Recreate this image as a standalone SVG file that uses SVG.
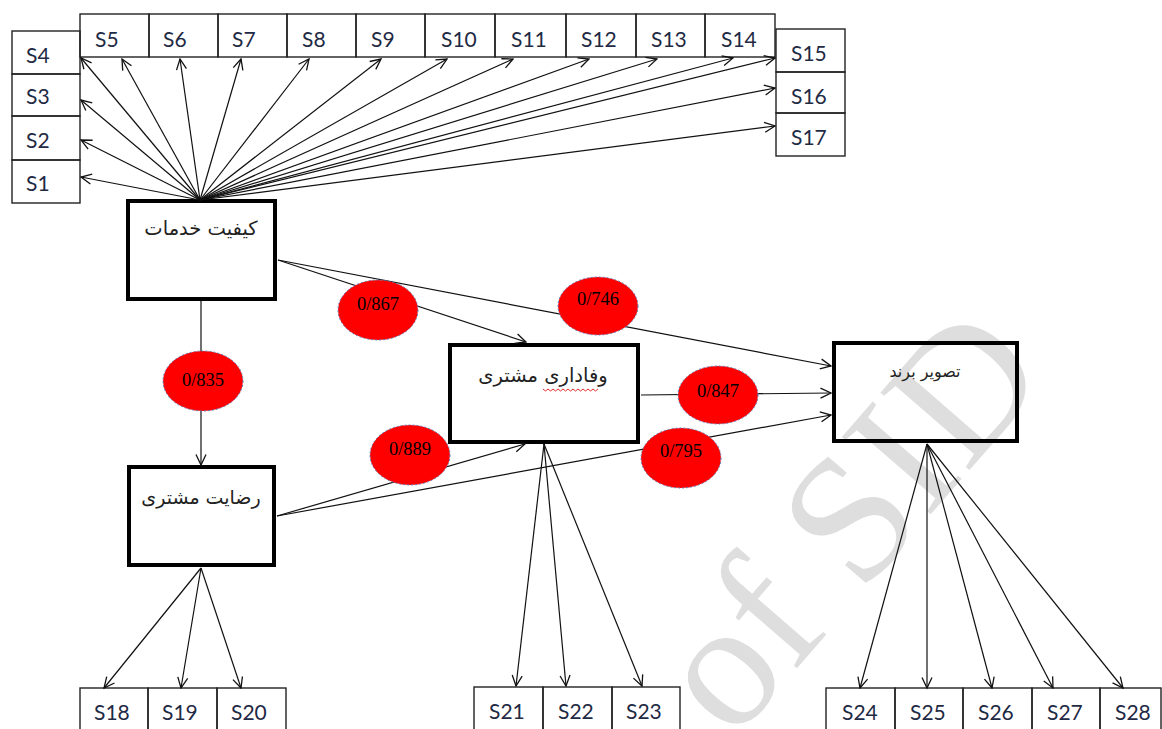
<svg xmlns="http://www.w3.org/2000/svg" width="1162" height="729" viewBox="0 0 1162 729">
<style>
.sb{fill:none;stroke:#222;stroke-width:1.4}
.st{font-family:Lato,"Open Sans",sans-serif;font-size:21px;fill:#1f2a44}
.big{fill:none;stroke:#000;stroke-width:4}
.fa{font-family:"DejaVu Sans",sans-serif;fill:#222;text-anchor:middle}
.c line{stroke:#111;stroke-width:1.2;fill:none}
.el{fill:#ff0000;stroke:#5a7fb8;stroke-width:1;stroke-dasharray:2 2}
.et{font-family:"Liberation Serif",serif;font-size:18.5px;fill:#000;text-anchor:middle}
.wm{font-family:"Liberation Serif",serif;font-size:180px;fill:#dedede}
</style>
<defs>
<marker id="a" markerWidth="13" markerHeight="13" refX="11.5" refY="6" orient="auto" markerUnits="userSpaceOnUse">
<path d="M1,1 L11.5,6 L1,11" fill="none" stroke="#111" stroke-width="1.3"/>
</marker>
</defs>
<rect width="1162" height="729" fill="#fff"/>
<text class="wm" transform="translate(733,742) rotate(-49)">of SID</text>

<g id="top-row">
<g id="S5"><rect class="sb" x="80" y="14" width="69" height="43"/><text class="st" x="95" y="47">S5</text></g>
<g id="S6"><rect class="sb" x="149" y="14" width="69" height="43"/><text class="st" x="163" y="47">S6</text></g>
<g id="S7"><rect class="sb" x="218" y="14" width="69" height="43"/><text class="st" x="232" y="47">S7</text></g>
<g id="S8"><rect class="sb" x="287" y="14" width="69" height="43"/><text class="st" x="302" y="47">S8</text></g>
<g id="S9"><rect class="sb" x="356" y="14" width="69" height="43"/><text class="st" x="371" y="47">S9</text></g>
<g id="S10"><rect class="sb" x="425" y="14" width="70" height="43"/><text class="st" x="441" y="47">S10</text></g>
<g id="S11"><rect class="sb" x="495" y="14" width="71" height="43"/><text class="st" x="511" y="47">S11</text></g>
<g id="S12"><rect class="sb" x="566" y="14" width="70" height="43"/><text class="st" x="581" y="47">S12</text></g>
<g id="S13"><rect class="sb" x="636" y="14" width="69" height="43"/><text class="st" x="651" y="47">S13</text></g>
<g id="S14"><rect class="sb" x="705" y="14" width="70" height="43"/><text class="st" x="721" y="47">S14</text></g>
</g>
<g id="left-col">
<g id="S4"><rect class="sb" x="12" y="31" width="68" height="43"/><text class="st" x="26" y="63">S4</text></g>
<g id="S3"><rect class="sb" x="12" y="74" width="68" height="42"/><text class="st" x="26" y="104">S3</text></g>
<g id="S2"><rect class="sb" x="12" y="116" width="68" height="44"/><text class="st" x="26" y="148">S2</text></g>
<g id="S1"><rect class="sb" x="12" y="160" width="68" height="43"/><text class="st" x="26" y="191">S1</text></g>
</g>
<g id="right-col">
<g id="S15"><rect class="sb" x="776" y="29" width="69" height="43"/><text class="st" x="791" y="61">S15</text></g>
<g id="S16"><rect class="sb" x="776" y="72" width="69" height="41"/><text class="st" x="791" y="104">S16</text></g>
<g id="S17"><rect class="sb" x="776" y="113" width="69" height="43"/><text class="st" x="791" y="145">S17</text></g>
</g>
<g id="bottom-left">
<g id="S18"><rect class="sb" x="80" y="688" width="68" height="60"/><text class="st" x="94" y="720">S18</text></g>
<g id="S19"><rect class="sb" x="148" y="688" width="69" height="60"/><text class="st" x="162" y="720">S19</text></g>
<g id="S20"><rect class="sb" x="217" y="688" width="69" height="60"/><text class="st" x="231" y="720">S20</text></g>
</g>
<g id="bottom-mid">
<g id="S21"><rect class="sb" x="474" y="687" width="69" height="60"/><text class="st" x="489" y="719">S21</text></g>
<g id="S22"><rect class="sb" x="543" y="687" width="69" height="60"/><text class="st" x="558" y="719">S22</text></g>
<g id="S23"><rect class="sb" x="612" y="687" width="68" height="60"/><text class="st" x="626" y="719">S23</text></g>
</g>
<g id="bottom-right">
<g id="S24"><rect class="sb" x="826" y="688" width="69" height="60"/><text class="st" x="842" y="720">S24</text></g>
<g id="S25"><rect class="sb" x="895" y="688" width="68" height="60"/><text class="st" x="910" y="720">S25</text></g>
<g id="S26"><rect class="sb" x="963" y="688" width="69" height="60"/><text class="st" x="978" y="720">S26</text></g>
<g id="S27"><rect class="sb" x="1032" y="688" width="68" height="60"/><text class="st" x="1047" y="720">S27</text></g>
<g id="S28"><rect class="sb" x="1100" y="688" width="61" height="60"/><text class="st" x="1115" y="720">S28</text></g>
</g>

<g id="service-quality"><rect class="big" x="128" y="201" width="147" height="98"/><text class="fa" x="201" y="235" font-size="19.5">کیفیت خدمات</text></g>
<g id="customer-loyalty"><rect class="big" x="450" y="345" width="188" height="97"/><text class="fa" x="543" y="382" font-size="19.5">وفاداری مشتری</text>
<path d="M543,389 l2.5,2 l2.5,-2 l2.5,2 l2.5,-2 l2.5,2 l2.5,-2 l2.5,2 l2.5,-2 l2.5,2 l2.5,-2 l2.5,2 l2.5,-2 l2.5,2 l2.5,-2 l2.5,2 l2.5,-2 l2.5,2 l2.5,-2 l2.5,2 l2.5,-2 l2.5,2 l2.5,-2" fill="none" stroke="#e03030" stroke-width="1"/></g>
<g id="brand-image"><rect class="big" x="834" y="343" width="183" height="98"/><text class="fa" x="925" y="377" font-size="16">تصویر برند</text></g>
<g id="customer-satisfaction"><rect class="big" x="129" y="467" width="145" height="98"/><text class="fa" x="201" y="504" font-size="19">رضایت مشتری</text></g>

<g id="connectors" class="c">
<line x1="200" y1="200" x2="81" y2="58" marker-end="url(#a)"/>
<line x1="200" y1="200" x2="81" y2="100" marker-end="url(#a)"/>
<line x1="200" y1="200" x2="81" y2="140" marker-end="url(#a)"/>
<line x1="200" y1="200" x2="81" y2="177" marker-end="url(#a)"/>
<line x1="200" y1="200" x2="122" y2="59" marker-end="url(#a)"/>
<line x1="200" y1="200" x2="180" y2="59" marker-end="url(#a)"/>
<line x1="200" y1="200" x2="241" y2="59" marker-end="url(#a)"/>
<line x1="200" y1="200" x2="309" y2="59" marker-end="url(#a)"/>
<line x1="200" y1="200" x2="381" y2="59" marker-end="url(#a)"/>
<line x1="200" y1="200" x2="447" y2="59" marker-end="url(#a)"/>
<line x1="200" y1="200" x2="513" y2="59" marker-end="url(#a)"/>
<line x1="200" y1="200" x2="589" y2="59" marker-end="url(#a)"/>
<line x1="200" y1="200" x2="657" y2="59" marker-end="url(#a)"/>
<line x1="200" y1="200" x2="733" y2="58" marker-end="url(#a)"/>
<line x1="200" y1="200" x2="775" y2="58" marker-end="url(#a)"/>
<line x1="200" y1="200" x2="775" y2="88" marker-end="url(#a)"/>
<line x1="200" y1="200" x2="775" y2="126" marker-end="url(#a)"/>
<line x1="201" y1="301" x2="201" y2="465" marker-end="url(#a)"/>
<line x1="278" y1="260" x2="526" y2="342" marker-end="url(#a)"/>
<line x1="278" y1="260" x2="831" y2="366" marker-end="url(#a)"/>
<line x1="641" y1="395" x2="831" y2="393" marker-end="url(#a)"/>
<line x1="277" y1="516" x2="525" y2="444" marker-end="url(#a)"/>
<line x1="277" y1="516" x2="831" y2="415" marker-end="url(#a)"/>
<line x1="201" y1="568" x2="104" y2="688" marker-end="url(#a)"/>
<line x1="201" y1="568" x2="181" y2="688" marker-end="url(#a)"/>
<line x1="201" y1="568" x2="241" y2="688" marker-end="url(#a)"/>
<line x1="544" y1="444" x2="516" y2="686" marker-end="url(#a)"/>
<line x1="544" y1="444" x2="566" y2="686" marker-end="url(#a)"/>
<line x1="544" y1="444" x2="642" y2="686" marker-end="url(#a)"/>
<line x1="927" y1="444" x2="860" y2="688" marker-end="url(#a)"/>
<line x1="927" y1="444" x2="927" y2="688" marker-end="url(#a)"/>
<line x1="927" y1="444" x2="992" y2="688" marker-end="url(#a)"/>
<line x1="927" y1="444" x2="1053" y2="688" marker-end="url(#a)"/>
<line x1="927" y1="444" x2="1123" y2="688" marker-end="url(#a)"/>
</g>

<g id="coef-867"><ellipse class="el" cx="378" cy="310" rx="40" ry="30"/><text class="et" x="378" y="310">0/867</text></g>
<g id="coef-746"><ellipse class="el" cx="598" cy="306" rx="40" ry="29"/><text class="et" x="598" y="305">0/746</text></g>
<g id="coef-835"><ellipse class="el" cx="203" cy="381" rx="40" ry="30"/><text class="et" x="203" y="386">0/835</text></g>
<g id="coef-847"><ellipse class="el" cx="718" cy="395" rx="40" ry="29"/><text class="et" x="718" y="397">0/847</text></g>
<g id="coef-889"><ellipse class="el" cx="410" cy="455" rx="40" ry="30"/><text class="et" x="410" y="455">0/889</text></g>
<g id="coef-795"><ellipse class="el" cx="681" cy="458" rx="40" ry="30"/><text class="et" x="681" y="457">0/795</text></g>
</svg>
